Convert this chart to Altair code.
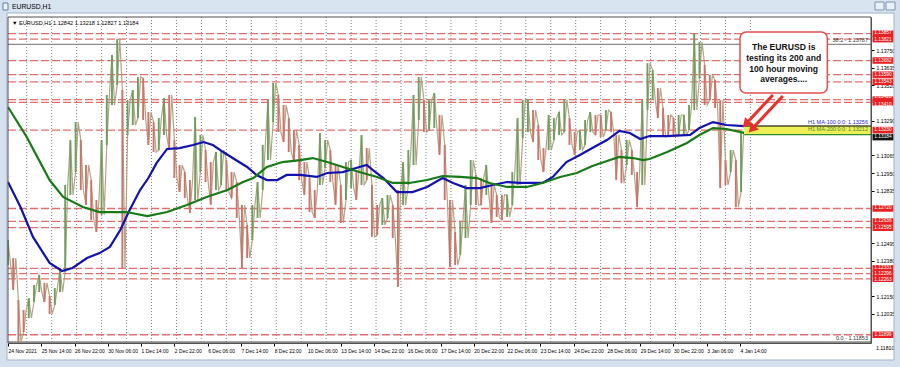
import json
import altair as alt
import pandas as pd

# ---------------- data ----------------
TITLE = "EURUSD,H1"
HEADER = "\u25bc EURUSD,H1  1.12842 1.13218 1.12827 1.13184"

time_labels = ["24 Nov 2021", "25 Nov 14:00", "26 Nov 22:00", "30 Nov 06:00", "1 Dec 14:00",
               "2 Dec 22:00", "6 Dec 06:00", "7 Dec 14:00", "8 Dec 22:00", "10 Dec 06:00",
               "13 Dec 14:00", "14 Dec 22:00", "16 Dec 06:00", "17 Dec 14:00", "20 Dec 22:00",
               "22 Dec 06:00", "23 Dec 14:00", "24 Dec 22:00", "28 Dec 06:00", "29 Dec 14:00",
               "30 Dec 22:00", "3 Jan 06:00", "4 Jan 14:00"]
label_bars = [0, 32, 64, 96, 128, 160, 192, 224, 256, 288, 320, 352, 384, 416, 448, 480,
              512, 544, 576, 608, 640, 672, 704]
day_bars = [18, 42, 66, 90, 114, 138, 162, 186, 210, 234, 258, 282, 306, 330, 354, 378,
            402, 426, 450, 474, 498, 522, 546, 570, 594, 618, 642, 666, 690, 714]

# price columns (every 5 hourly bars): high / low
price_bar = list(range(0, 710, 5))
price_hi = [1.12515, 1.12398, 1.12125, 1.12060, 1.12138, 1.12223, 1.12288, 1.12236, 1.12151, 1.12203,
            1.12333, 1.12873, 1.13165, 1.13282, 1.13165, 1.13003, 1.12905, 1.12775, 1.13165, 1.13458,
            1.13718, 1.13821, 1.13490, 1.13425, 1.13490, 1.13575, 1.13568, 1.13347, 1.13282, 1.13308,
            1.13438, 1.13458, 1.13165, 1.13003, 1.12957, 1.12905, 1.13315, 1.13198, 1.13100, 1.13022,
            1.13087, 1.13100, 1.13035, 1.12957, 1.12892, 1.12743, 1.12613, 1.12743, 1.12892, 1.13133,
            1.13425, 1.13536, 1.13458, 1.13393, 1.13308, 1.13230, 1.13133, 1.13022, 1.12918, 1.12840,
            1.13211, 1.13165, 1.13100, 1.13003, 1.12873, 1.13022, 1.13035, 1.12957, 1.13198, 1.13113,
            1.12873, 1.12743, 1.12788, 1.12808, 1.12743, 1.12840, 1.13022, 1.13100, 1.13458, 1.13575,
            1.13425, 1.13425, 1.13470, 1.13328, 1.13133, 1.12775, 1.12567, 1.12632, 1.12873, 1.13035,
            1.12938, 1.12918, 1.13003, 1.12873, 1.12808, 1.12808, 1.12808, 1.12957, 1.13308, 1.13425,
            1.13425, 1.13360, 1.13263, 1.13113, 1.13328, 1.13308, 1.13347, 1.13425, 1.13308, 1.13217,
            1.13230, 1.13295, 1.13347, 1.13328, 1.13328, 1.13360, 1.13347, 1.13198, 1.13100, 1.13165,
            1.13100, 1.12957, 1.13425, 1.13665, 1.13620, 1.13503, 1.13373, 1.13328, 1.13308, 1.13328,
            1.13328, 1.13393, 1.13857, 1.13802, 1.13653, 1.13588, 1.13555, 1.13425, 1.13035, 1.13100,
            1.13035, 1.13218]
price_lo = [1.12353, 1.12190, 1.11853, 1.11917, 1.12008, 1.12112, 1.12177, 1.12112, 1.12034, 1.12093,
            1.12177, 1.12307, 1.12808, 1.12957, 1.12840, 1.12743, 1.12645, 1.12567, 1.12678, 1.13133,
            1.13393, 1.13523, 1.12333, 1.13198, 1.13263, 1.13308, 1.13295, 1.13133, 1.13087, 1.13100,
            1.13198, 1.13100, 1.12918, 1.12827, 1.12788, 1.12691, 1.12775, 1.12957, 1.12892, 1.12743,
            1.12840, 1.12873, 1.12827, 1.12788, 1.12658, 1.12333, 1.12398, 1.12515, 1.12658, 1.12840,
            1.13035, 1.13282, 1.13217, 1.13152, 1.13087, 1.13022, 1.12905, 1.12808, 1.12697, 1.12658,
            1.12873, 1.12983, 1.12892, 1.12743, 1.12626, 1.12775, 1.12853, 1.12775, 1.12873, 1.12905,
            1.12535, 1.12548, 1.12613, 1.12658, 1.12528, 1.12210, 1.12743, 1.12873, 1.13003, 1.13295,
            1.13217, 1.13230, 1.13243, 1.13068, 1.12775, 1.12340, 1.12353, 1.12418, 1.12528, 1.12743,
            1.12743, 1.12743, 1.12808, 1.12626, 1.12665, 1.12645, 1.12665, 1.12743, 1.12873, 1.13178,
            1.13217, 1.13152, 1.13035, 1.12957, 1.13100, 1.13165, 1.13198, 1.13217, 1.13133, 1.13068,
            1.13100, 1.13133, 1.13217, 1.13198, 1.13185, 1.13230, 1.13217, 1.12905, 1.12885, 1.13003,
            1.12938, 1.12730, 1.12873, 1.13360, 1.13425, 1.13308, 1.13185, 1.13198, 1.13198, 1.13198,
            1.13198, 1.13230, 1.13360, 1.13568, 1.13393, 1.13425, 1.13373, 1.12853, 1.12873, 1.12957,
            1.12730, 1.12827]

ma100_bar = [0, 12, 24, 40, 52, 62, 76, 88, 98, 108, 117, 127, 135, 143, 153, 165, 178, 188, 197, 207,
             216, 230, 239, 249, 259, 268, 281, 297, 307, 322, 338, 345, 351, 361, 374, 389, 403, 418,
             428, 441, 454, 466, 480, 492, 505, 514, 524, 537, 550, 562, 576, 588, 598, 608, 617, 634,
             656, 665, 678, 691, 708]
ma100 = [1.12892, 1.12730, 1.12535, 1.12366, 1.12314, 1.12333, 1.12398, 1.12430, 1.12470, 1.12580,
         1.12710, 1.12840, 1.12918, 1.13016, 1.13107, 1.13113, 1.13133, 1.13152, 1.13133, 1.13087,
         1.13048, 1.12990, 1.12938, 1.12905, 1.12905, 1.12938, 1.12938, 1.12925, 1.12951, 1.12957,
         1.12990, 1.13003, 1.12970, 1.12918, 1.12827, 1.12827, 1.12860, 1.12918, 1.12886, 1.12853,
         1.12853, 1.12873, 1.12892, 1.12886, 1.12886, 1.12886, 1.12925, 1.13022, 1.13068, 1.13113,
         1.13165, 1.13224, 1.13211, 1.13172, 1.13191, 1.13191, 1.13198, 1.13243, 1.13282, 1.13263,
         1.13256]

ma200_bar = [0, 18, 40, 53, 72, 88, 105, 114, 134, 153, 172, 191, 211, 226, 236, 249, 264, 281, 293,
             307, 322, 338, 355, 370, 386, 403, 418, 435, 451, 463, 480, 499, 514, 531, 547, 562, 579,
             588, 601, 611, 617, 634, 653, 665, 678, 691, 708]
ma200 = [1.13380, 1.13185, 1.12905, 1.12795, 1.12730, 1.12697, 1.12697, 1.12697, 1.12671, 1.12697,
         1.12743, 1.12795, 1.12840, 1.12892, 1.12918, 1.12990, 1.13022, 1.13035, 1.13048, 1.13022,
         1.12990, 1.12957, 1.12925, 1.12886, 1.12886, 1.12905, 1.12931, 1.12925, 1.12918, 1.12886,
         1.12860, 1.12860, 1.12886, 1.12925, 1.12951, 1.12996, 1.13035, 1.13055, 1.13048, 1.13035,
         1.13042, 1.13087, 1.13146, 1.13198, 1.13243, 1.13237, 1.13212]

level_prices = [1.13857, 1.13821, 1.13682, 1.13590, 1.13543, 1.13428, 1.13410, 1.13230,
                1.12720, 1.12636, 1.12595, 1.12331, 1.12296, 1.12263, 1.11899]
current_price = 1.13184
# price scale labels that are not hidden behind the red / black price tags
axis_ticks = [1.13750, 1.13635, 1.13520, 1.13290, 1.13065, 1.12950, 1.12835,
              1.12495, 1.12380, 1.12150, 1.12035]
axis_bottom_label = 1.11810

fib_prices = [1.13787, 1.11853]
fib_texts = ["38.2 - 1.13787", "0.0 - 1.11853"]

ma_label_texts = ["H1 MA-100:0:0: 1.13256", "H1 MA-200:0:0: 1.13212"]
ma_label_prices = [1.13256, 1.13212]

band_bars = [708, 830]
band_prices = [1.13256, 1.13200]

note_lines = ["The EURUSD is", "testing its 200 and", "100 hour moving", "averages...."]
note_box_bars = [704, 788]
note_box_prices = [1.13867, 1.13471]
note_line_prices = [1.13770, 1.13698, 1.13627, 1.13560]
note_bar = 746

arrow_start_bar = [735.6, 745.2]
arrow_start_price = [1.13458, 1.13451]
arrow_end_bar = [709.6, 715.4]
arrow_end_price = [1.13269, 1.13236]

# ---------------- layout ----------------
W, H = 863, 326
FONT = "Liberation Sans"
xs = alt.Scale(domain=[0, 830], nice=False, zero=False)
ys = alt.Scale(domain=[1.118455, 1.13965], nice=False, zero=False)

AX_X = alt.Axis(values=label_bars, labelExpr=json.dumps(time_labels) + "[round(datum.value/32)]",
                labelAlign="left", labelFontSize=5, labelFont=FONT, labelColor="#000",
                tickSize=3, tickColor="#000", domainColor="#555", grid=False, labelPadding=2,
                labelOverlap=False, labelFlush=False, labelBound=False, zindex=0, title=None)
AX_Y = alt.Axis(orient="right", values=axis_ticks, format=".5f", labelFontSize=5.2, labelFont=FONT,
                labelColor="#000", tickSize=3, tickColor="#000", domainColor="#555", grid=False,
                labelPadding=2, labelOverlap=False, labelFlush=False, labelBound=False, zindex=0,
                title=None)


def X(field):
    return alt.X(field, type="quantitative", scale=xs, axis=AX_X, title=None)


def Y(field):
    return alt.Y(field, type="quantitative", scale=ys, axis=AX_Y, title=None)


one = pd.DataFrame({"k": [0]})

price_df = pd.DataFrame({"bar": price_bar, "hi": price_hi, "lo": price_lo})
mid = (price_df["hi"] + price_df["lo"]) / 2
price_df["dir"] = ["up" if i == 0 or mid[i] >= mid[i - 1] else "down" for i in range(len(mid))]

# zig-zag between each column's high and low (thin connecting strokes)
zz_rows = []
for i, (b, h, l) in enumerate(zip(price_bar, price_hi, price_lo)):
    zz_rows.append({"o": 2 * i, "bar": b, "p": h if i % 2 == 0 else l})
    zz_rows.append({"o": 2 * i + 1, "bar": b + 2.5, "p": l if i % 2 == 0 else h})
zz_df = pd.DataFrame(zz_rows)

grid = alt.Chart(pd.DataFrame({"bar": day_bars})).mark_rule(
    color="#808080", strokeDash=[1, 2], strokeWidth=1).encode(
    x=X("bar"), y=alt.value(0), y2=alt.value(H))

levels = alt.Chart(pd.DataFrame({"p": level_prices})).mark_rule(
    color="#e36e6e", strokeDash=[8, 3], strokeWidth=1.3).encode(
    y=Y("p"), x=alt.value(0), x2=alt.value(W))

fib = alt.Chart(pd.DataFrame({"p": fib_prices})).mark_rule(
    color="#8a8a8a", strokeWidth=1.4).encode(
    y=Y("p"), x=alt.value(0), x2=alt.value(W))

zigzag = alt.Chart(zz_df).mark_line(color="#a89a7c", strokeWidth=1.2, opacity=0.9).encode(
    x=X("bar"), y=Y("p"), order="o:Q")

price_up = alt.Chart(price_df[price_df["dir"] == "up"]).mark_rule(
    strokeWidth=1.9, color="#6e9e5c").encode(x=X("bar"), y=Y("lo"), y2="hi:Q")
price_dn = alt.Chart(price_df[price_df["dir"] == "down"]).mark_rule(
    strokeWidth=1.9, color="#cd7468").encode(x=X("bar"), y=Y("lo"), y2="hi:Q")

ma100_line = alt.Chart(pd.DataFrame({"bar": ma100_bar, "p": ma100})).mark_line(
    color="#1212b0", strokeWidth=2.2).encode(x=X("bar"), y=Y("p"))
ma200_line = alt.Chart(pd.DataFrame({"bar": ma200_bar, "p": ma200})).mark_line(
    color="#177a17", strokeWidth=2.2).encode(x=X("bar"), y=Y("p"))

band_df = pd.DataFrame({"b1": [band_bars[0]], "b2": [band_bars[1]],
                        "p1": [band_prices[0]], "p2": [band_prices[1]]})
band = alt.Chart(band_df).mark_rect(color="#eeee55").encode(
    x=X("b1"), x2="b2:Q", y=Y("p1"), y2="p2:Q")
band_top = alt.Chart(band_df).mark_rule(color="#4a4a2a", strokeWidth=1.4).encode(
    x=X("b1"), x2="b2:Q", y=Y("p1"))
band_bot = alt.Chart(band_df).mark_rule(color="#2e8b2e", strokeWidth=1.4).encode(
    x=X("b1"), x2="b2:Q", y=Y("p2"))

ma100_lbl = alt.Chart(pd.DataFrame({"p": [ma_label_prices[0]], "t": [ma_label_texts[0]]})).mark_text(
    align="right", baseline="bottom", dy=-1, fontSize=5.5, font=FONT, color="#2a2ad0").encode(
    y=Y("p"), x=alt.value(W - 3), text="t:N")
ma200_lbl = alt.Chart(pd.DataFrame({"p": [ma_label_prices[1]], "t": [ma_label_texts[1]]})).mark_text(
    align="right", baseline="bottom", dy=-1, fontSize=5.5, font=FONT, color="#3a8a3a").encode(
    y=Y("p"), x=alt.value(W - 3), text="t:N")

note_df = pd.DataFrame({"b1": [note_box_bars[0]], "b2": [note_box_bars[1]],
                        "p1": [note_box_prices[0]], "p2": [note_box_prices[1]]})
note_box = alt.Chart(note_df).mark_rect(fill="white", stroke="#e05050", strokeWidth=1.5,
                                        cornerRadius=6).encode(
    x=X("b1"), x2="b2:Q", y=Y("p1"), y2="p2:Q")
note_txt = alt.Chart(pd.DataFrame({"bar": [note_bar] * 4, "p": note_line_prices,
                                   "t": note_lines})).mark_text(
    align="center", baseline="middle", fontSize=8.6, fontWeight="bold", font=FONT,
    color="#111").encode(x=X("bar"), y=Y("p"), text="t:N")

fib_txt = alt.Chart(pd.DataFrame({"p": fib_prices, "t": fib_texts})).mark_text(
    align="right", baseline="bottom", dy=-1, fontSize=5.5, font=FONT, color="#333").encode(
    y=Y("p"), x=alt.value(W - 3), text="t:N")

arrow_df = pd.DataFrame({"sb": arrow_start_bar, "sp": arrow_start_price,
                         "eb": arrow_end_bar, "ep": arrow_end_price})
arrows = alt.Chart(arrow_df).mark_rule(color="#e8302a", strokeWidth=3).encode(
    x=X("sb"), x2="eb:Q", y=Y("sp"), y2="ep:Q")
heads = alt.Chart(arrow_df).mark_point(shape="triangle-up", filled=True, size=110, angle=223,
                                       color="#e8302a", opacity=1).encode(x=X("eb"), y=Y("ep"))

TAG_X = W + 12
BOX = "M-1,-0.31L1,-0.31L1,0.31L-1,0.31Z"
lvl_df = pd.DataFrame({"p": level_prices, "t": [f"{v:.5f}" for v in level_prices]})
cur_df = pd.DataFrame({"p": [current_price], "t": [f"{current_price:.5f}"]})
tags_lvl = alt.Chart(lvl_df).mark_point(shape=BOX, filled=True, size=441, opacity=1, strokeWidth=0,
                                        color="#e82222").encode(x=alt.value(TAG_X), y=Y("p"))
tags_cur = alt.Chart(cur_df).mark_point(shape=BOX, filled=True, size=441, opacity=1, strokeWidth=0,
                                        color="#111111").encode(x=alt.value(TAG_X), y=Y("p"))
# small vertical nudges so that tightly packed tag texts stay legible
nudge = {1.13857: -0.8, 1.13821: 0.8, 1.13428: -2.2, 1.13410: 2.4,
         1.12331: -0.8, 1.12263: 0.8}
tag_df = pd.concat([lvl_df, cur_df], ignore_index=True)
tag_df["dy"] = [nudge.get(v, 0.0) for v in tag_df["p"]]
tag_txt_layers = []
for off in sorted(set(tag_df["dy"])):
    tag_txt_layers.append(alt.Chart(tag_df[tag_df["dy"] == off]).mark_text(
        fontSize=4.8, font=FONT, color="white", align="center", baseline="middle", dy=off).encode(
        x=alt.value(TAG_X), y=Y("p"), text="t:N"))

bottom_lbl = alt.Chart(pd.DataFrame({"p": [axis_bottom_label],
                                     "t": [f"{axis_bottom_label:.5f}"]})).mark_text(
    align="left", baseline="middle", fontSize=5.2, font=FONT, color="#000").encode(
    x=alt.value(W + 5), y=Y("p"), text="t:N")

header = alt.Chart(pd.DataFrame({"t": [HEADER]})).mark_text(
    align="left", baseline="middle", fontSize=5.6, font=FONT, color="#000").encode(
    x=alt.value(4), y=alt.value(6), text="t:N")

# window frame (title bar and borders) drawn around the chart area
FRAME = "#d4e0ed"
frame_top = alt.Chart(one).mark_rect(color="#d9e4f1").encode(
    x=alt.value(-8), x2=alt.value(W + 29), y=alt.value(-17), y2=alt.value(-4))
frame_left = alt.Chart(one).mark_rect(color=FRAME).encode(
    x=alt.value(-8), x2=alt.value(-1), y=alt.value(-17), y2=alt.value(H + 24))
frame_right = alt.Chart(one).mark_rect(color=FRAME).encode(
    x=alt.value(W + 23), x2=alt.value(W + 29), y=alt.value(-17), y2=alt.value(H + 24))
frame_bottom = alt.Chart(one).mark_rect(color=FRAME).encode(
    x=alt.value(-8), x2=alt.value(W + 29), y=alt.value(H + 17), y2=alt.value(H + 24))
frame_edge = alt.Chart(one).mark_rect(fillOpacity=0, stroke="#9fb3c8", strokeWidth=1).encode(
    x=alt.value(-1), x2=alt.value(W + 23), y=alt.value(-4), y2=alt.value(H + 17))
title = alt.Chart(pd.DataFrame({"t": [TITLE]})).mark_text(
    align="left", baseline="middle", fontSize=6.8, font=FONT, color="#000").encode(
    x=alt.value(4), y=alt.value(-10), text="t:N")
icon = alt.Chart(one).mark_rect(fill="#eef3fa", stroke="#5a7fa8", strokeWidth=1).encode(
    x=alt.value(-5), x2=alt.value(0), y=alt.value(-14), y2=alt.value(-7))
btn_df = pd.DataFrame({"x1": [W + 4, W + 15], "x2": [W + 13, W + 24]})
buttons = alt.Chart(btn_df).mark_rect(fill="#eaf0f7", stroke="#7d93ad", strokeWidth=1).encode(
    x=alt.X("x1:Q", scale=None), x2="x2:Q", y=alt.value(-15), y2=alt.value(-7))

border = alt.Chart(one).mark_rect(fillOpacity=0, stroke="#505050", strokeWidth=1).encode(
    x=alt.value(0), x2=alt.value(W), y=alt.value(0), y2=alt.value(H))

chart = alt.layer(
    grid, levels, fib, zigzag, price_up, price_dn, ma100_line, ma200_line, band, band_top, band_bot,
    ma100_lbl, ma200_lbl, note_box, note_txt, fib_txt, arrows, heads, tags_lvl, tags_cur,
    *tag_txt_layers, bottom_lbl, header, frame_top, frame_left, frame_right, frame_bottom,
    frame_edge, title, icon, buttons, border
).properties(
    width=W, height=H,
    autosize=alt.AutoSizeParams(type="none"),
    padding={"left": 8, "top": 17, "right": 29, "bottom": 24},
).configure(background="white").configure_view(strokeWidth=0)

chart.save("out.html", embed_options={"renderer": "svg", "actions": False})
